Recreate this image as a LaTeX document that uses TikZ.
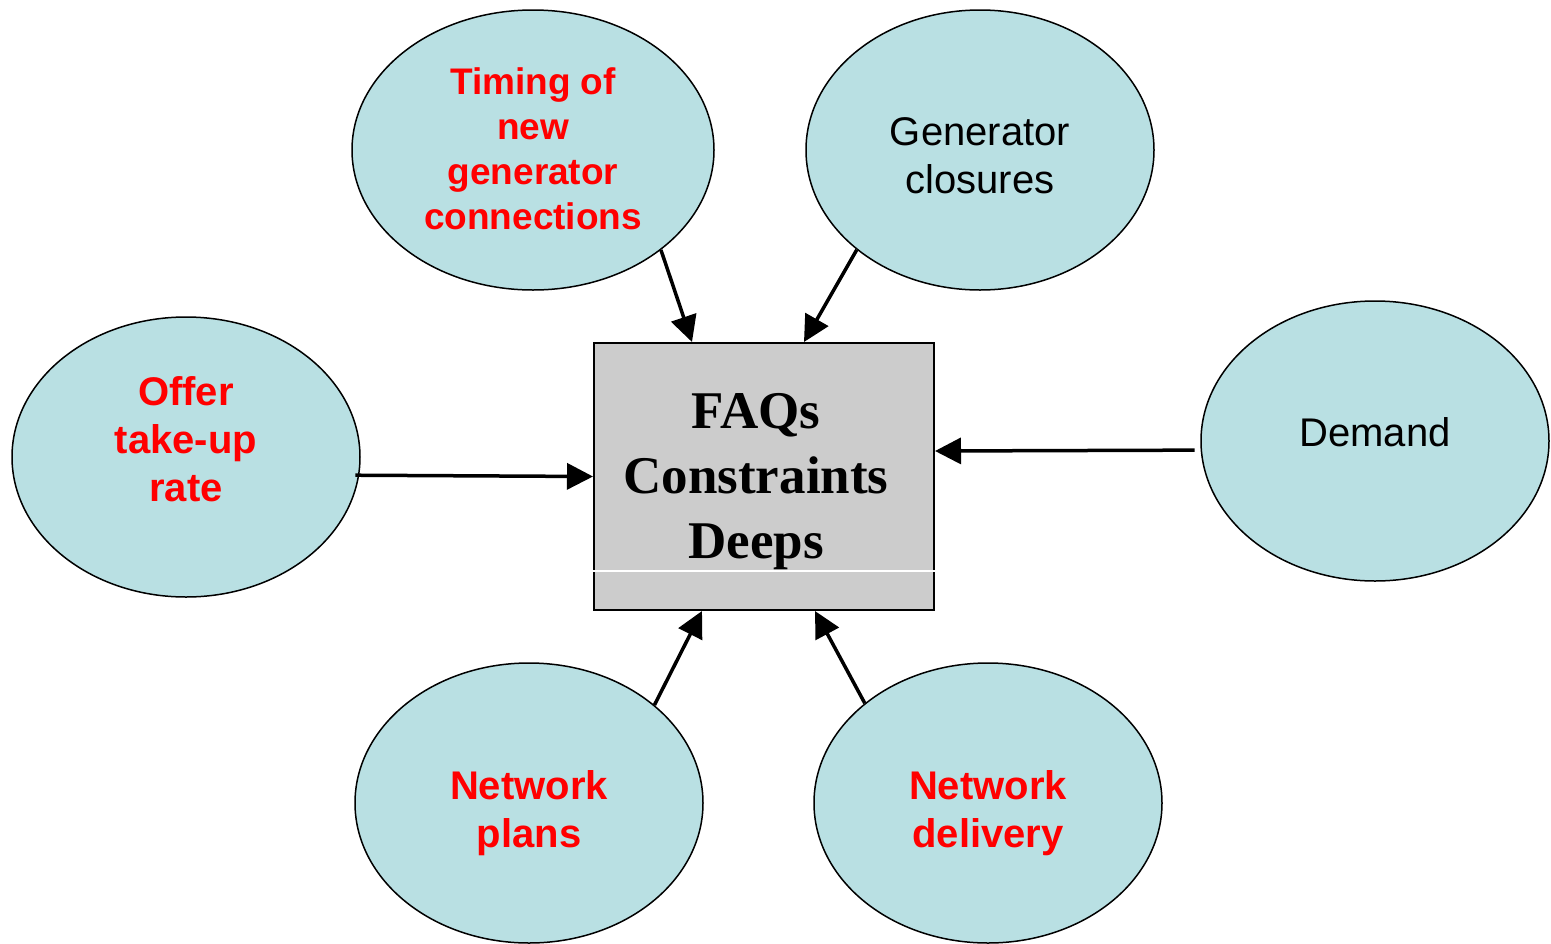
\documentclass[tikz,border=0pt]{standalone}
\usepackage{fontspec}
\setmainfont{Liberation Sans}
\newfontfamily\timesfont{Liberation Serif}
\usetikzlibrary{shapes.geometric,arrows.meta}
\definecolor{bubble}{HTML}{B9E0E3}
\definecolor{boxgray}{HTML}{CCCCCC}
\definecolor{redtext}{HTML}{FF0000}
\tikzset{
  bubble/.style={ellipse, draw=black, line width=1.5pt, fill=bubble, inner sep=0pt, minimum width=348pt, minimum height=280pt},
  lbl/.style={align=center, inner sep=0pt, font=\fontsize{40}{48}\selectfont},
  redlbl/.style={lbl, text=redtext, font=\fontsize{40}{48}\selectfont\bfseries},
  link/.style={line width=3.5pt, -{Triangle[length=26pt,width=26pt]}},
}
\begin{document}
\begin{tikzpicture}[x=1pt,y=-1pt]
\useasboundingbox (0,0) rectangle (1551,943);
% bubbles
\node[bubble, minimum width=362pt] (tim) at (533,150) {};
\node[bubble] (gen) at (980,150) {};
\node[bubble] (off) at (186,457) {};
\node[bubble] (dem) at (1375,441) {};
\node[bubble] (pla) at (529,803) {};
\node[bubble] (del) at (988,803) {};
% labels
\node[redlbl, font=\fontsize{37}{45}\selectfont\bfseries] (timt) at (533,149) {Timing of\\new\\generator\\connections};
\node[lbl] (gent) at (980,156) {Generator\\closures};
\node[redlbl] (offt) at (186,439) {Offer\\take-up\\rate};
\node[lbl] (demt) at (1375,432) {Demand};
\node[redlbl] (plat) at (529,813) {Network\\plans};
\node[redlbl] (delt) at (988,813) {Network\\delivery};
% central box
\node[draw=black, line width=2pt, fill=boxgray, minimum width=340pt, minimum height=267pt, inner sep=0pt] (box) at (764,476.5) {};
\node[align=center, inner sep=0pt, font=\timesfont\bfseries\fontsize{53}{65}\selectfont] (boxt) at (756,482) {FAQs\\Constraints\\Deeps};
\draw[white, line width=1.5pt] ([yshift=40pt]box.south west) -- ([yshift=40pt]box.south east);
% connectors
\draw[link] (tim.-38.2) -- ([xshift=99pt]box.north west);
\draw[link] (gen.-141.2) -- ([xshift=211pt]box.north west);
\draw[link] ([xshift=-4pt]off.-6.8) -- (box.west);
\draw[link] ([xshift=-6pt]dem.183) -- ([yshift=25.5pt]box.east);
\draw[link] (pla.38.5) -- ([xshift=109pt]box.south west);
\draw[link] (del.141.2) -- ([xshift=222pt]box.south west);
\end{tikzpicture}
\end{document}
